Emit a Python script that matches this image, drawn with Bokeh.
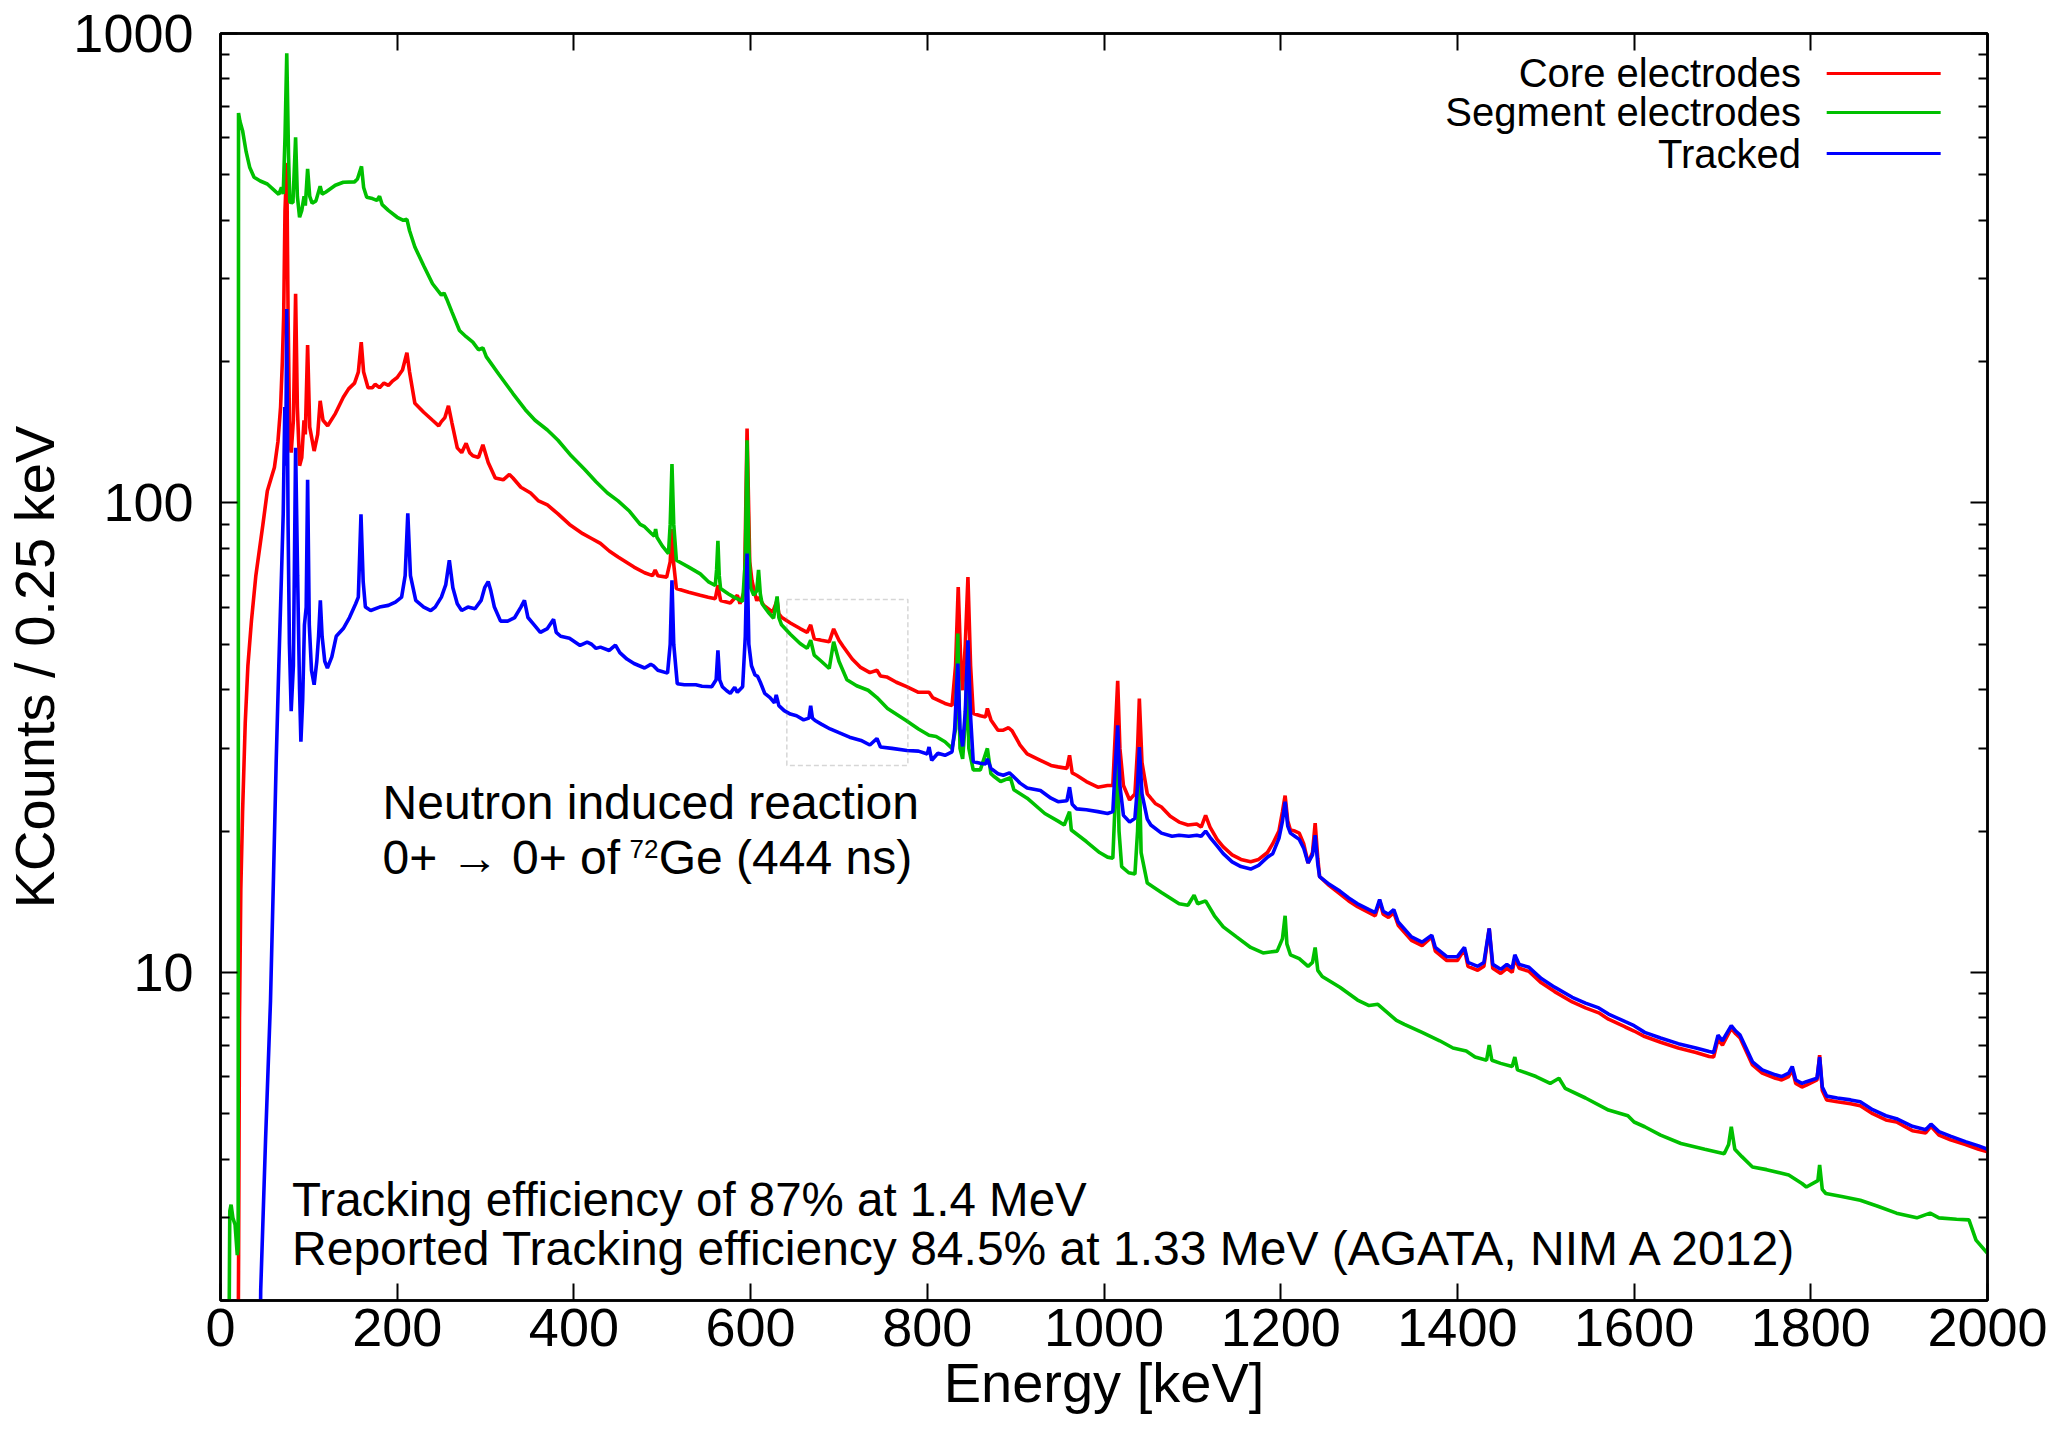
from bokeh.plotting import figure
from bokeh.models import (FixedTicker, LinearAxis, LogAxis, Label, BoxAnnotation,
                          NumeralTickFormatter, Range1d)
from bokeh.embed import file_html
from bokeh.resources import INLINE

FONT = "Liberation Sans"

# ---------------- data: (energy keV, kcounts / 0.25 keV) ----------------
core = [
    (19.5, 1.0), (20.5, 2.5), (21.5, 8.0), (23, 15), (25, 22), (28, 34), (31, 45), (35, 56), (40, 70),
    (48, 90), (53, 106), (58, 114), (61, 119), (65, 135), (68, 160), (70, 200), (71.5, 250), (73, 420),
    (75, 530), (76.5, 250), (78.4, 135), (80, 128), (82.5, 150), (85, 279), (87, 160), (89.5, 120),
    (92, 125), (94.5, 150), (96, 140), (98.6, 217), (101, 145), (106, 129), (110, 140), (112.8, 165),
    (116, 150), (121.3, 146), (130, 155), (139, 168), (145, 175), (151.7, 180), (156, 190), (159.3, 220),
    (162, 190), (167, 176), (172, 176), (175, 179), (180, 176), (185, 180), (190, 178), (195, 182),
    (200, 185), (206, 192), (211, 209), (214, 190), (220, 163), (230, 156), (240, 150), (247, 146),
    (250, 149), (254, 152), (258, 161), (262, 148), (268, 131), (273, 128), (278, 134), (282, 128),
    (285.6, 126), (292, 125), (297, 133), (303, 122), (311, 113), (320, 112), (327, 115), (331, 113),
    (340, 108), (351, 105), (360, 101), (370, 99), (382, 94.8), (395, 90), (410, 86), (420, 84),
    (430, 82), (440, 79), (450, 76.7), (468, 73), (480, 71), (489, 70), (492, 72), (495, 70),
    (505, 69.5), (509, 75), (511, 88), (513, 74), (516, 65.7), (530, 64.5), (543, 63.6), (552, 63),
    (560, 62.5), (563, 66.8), (566, 62), (577, 61.2), (585, 63.6), (588, 61), (593, 65), (596, 144),
    (599, 75), (601.5, 68.4), (605, 64), (607, 61.9), (609, 63), (615, 60.5), (625, 58.5), (630, 62),
    (632, 58), (635, 57.1), (645, 55.5), (656, 54), (664, 53), (668, 55), (672, 51.4), (680, 51),
    (689, 50.6), (694, 53.9), (700, 51), (705, 49.4), (715, 46.5), (724, 44.7), (735, 43.5), (743, 44),
    (747, 42.8), (754, 42.6), (765, 41.5), (776.6, 40.6), (790, 39.5), (802, 39.5), (806, 38.5),
    (820, 37.4), (828, 37), (832, 45), (835, 66.2), (838, 45), (840, 39.9), (843, 50), (846, 69.5),
    (849, 45), (852, 35.6), (860, 35.2), (866, 35), (868, 36.5), (872, 34.5), (880, 32.8), (886, 32.8),
    (892, 33.2), (896, 32.7), (905, 30.5), (913, 29.2), (928, 28.3), (940, 27.6), (948, 27.4),
    (958, 27.2), (961, 29), (964, 26.6), (969, 26.3), (980, 25.5), (993, 24.8), (1004, 25), (1010, 25),
    (1013, 33), (1015.5, 41.8), (1018, 30), (1022, 25), (1029, 23.3), (1035, 24), (1038, 30),
    (1040, 38.3), (1043, 28), (1049, 24), (1053, 23.5), (1058, 22.9), (1065, 22.5), (1075, 21.5),
    (1085, 20.9), (1095, 20.6), (1105, 20.7), (1110, 20.4), (1115, 21.6), (1120, 20.4), (1128, 19.2),
    (1135, 18.5), (1145, 17.8), (1155, 17.4), (1166, 17.2), (1175, 17.4), (1185, 18.0), (1191, 18.8),
    (1198, 20.0), (1202, 22), (1205, 23.8), (1208, 21), (1211, 20.1), (1216, 20.0), (1221, 19.8),
    (1226, 18.8), (1231, 17.1), (1236, 18), (1239, 20.8), (1242, 17.5), (1244, 16.0), (1255, 15.3),
    (1267, 14.7), (1277, 14.2), (1287, 13.8), (1300, 13.4), (1307, 13.2), (1312, 14.2), (1316, 13.3),
    (1322, 13.1), (1328, 13.4), (1333, 12.6), (1348, 11.7), (1360, 11.4), (1371, 11.9), (1375, 11.1),
    (1388, 10.6), (1400, 10.6), (1408, 11.2), (1412, 10.3), (1423, 10.1), (1430, 10.3), (1436, 12.4),
    (1440, 10.2), (1449, 9.95), (1456, 10.2), (1462, 10.0), (1465, 10.7), (1470, 10.2), (1481, 10.05),
    (1495, 9.5), (1510, 9.1), (1530, 8.65), (1545, 8.4), (1560, 8.2), (1571, 7.95), (1590, 7.65),
    (1600, 7.5), (1612, 7.3), (1630, 7.1), (1650, 6.9), (1670, 6.75), (1685, 6.62), (1690, 6.6),
    (1695, 7.2), (1700, 7.0), (1710, 7.6), (1715, 7.4), (1720, 7.25), (1734, 6.35), (1745, 6.1),
    (1760, 5.95), (1767, 5.9), (1775, 6.0), (1779, 6.2), (1783, 5.8), (1790, 5.7), (1795, 5.75),
    (1807, 5.9), (1810, 6.66), (1813, 5.6), (1818, 5.35), (1830, 5.3), (1845, 5.25), (1856, 5.2),
    (1870, 5.0), (1885, 4.85), (1897, 4.8), (1915, 4.6), (1930, 4.55), (1936, 4.7), (1945, 4.5),
    (1958, 4.4), (1975, 4.3), (1990, 4.2), (2000, 4.15),
]

segment = [
    (9, 1.0), (10.5, 3.1), (12, 3.2), (14, 3.0), (16.5, 2.9), (19, 2.5), (20, 2.6), (20.4, 677),
    (22, 650), (25, 621), (29, 560), (33, 519), (38, 494), (45, 485), (53, 478), (60, 465), (66, 454),
    (69, 470), (71, 455), (73, 600), (75, 908), (77, 550), (78.5, 437), (82, 436), (85, 601), (87, 450),
    (89.5, 406), (92, 420), (94.6, 450), (96, 430), (98.6, 515), (101, 450), (103.7, 435), (108, 440),
    (112.8, 473), (115, 455), (118.9, 459), (130, 475), (139, 482), (151.7, 483), (155, 490),
    (159.6, 521), (162, 470), (165.5, 448), (172, 445), (177, 441), (180, 450), (183, 432), (190, 420),
    (200, 406), (207, 400), (211, 402), (214, 380), (220, 351), (230, 320), (240, 293), (250, 277),
    (253, 280), (256, 272), (262, 255), (270.5, 233), (278, 226), (285.6, 220), (292, 212), (297, 214),
    (300.8, 205), (315, 188), (331, 171), (345, 158), (356, 150), (370, 143), (382, 136), (397, 126),
    (412, 118), (425, 111), (438, 105), (450, 101), (463, 96), (475, 90), (480, 89), (488, 86),
    (491, 85), (492.5, 88), (494, 84.5), (500, 81), (507, 78), (509, 90), (511, 121), (513, 90),
    (516, 75.5), (530, 73), (543, 70.6), (552, 68), (560, 66.7), (561.5, 72), (563, 83), (564.5, 70),
    (566, 65.7), (575, 64), (581, 63), (591, 61.7), (594, 75), (596, 136), (598, 80), (600, 66),
    (603.6, 63.6), (607, 65), (609, 72), (611, 64), (613, 61), (620, 58.5), (626, 56.8), (630, 63.2),
    (632, 57), (635, 55), (645, 52.5), (656, 50.2), (664, 49), (668, 51), (672, 47.4), (680, 46),
    (689, 44.4), (694, 50.6), (700, 46), (709, 42), (720, 40.8), (733, 39.9), (743, 38.5), (755, 36.5),
    (776, 34.4), (790, 33), (802, 32), (810, 31.8), (820, 31), (828, 30), (832, 33), (834.5, 52.7),
    (837, 30), (840, 28.5), (843, 34), (845, 45), (847, 30), (852, 27), (860, 27), (868, 30),
    (872, 26.5), (876, 26.1), (883, 25.5), (894, 26), (898, 24.5), (913, 23.5), (933, 21.8), (948, 21),
    (955, 20.6), (961, 22), (963, 20.1), (980, 19), (995, 18), (1004, 17.6), (1010, 17.5), (1013, 24),
    (1015, 30), (1017, 20), (1020, 16.8), (1028, 16.3), (1035, 16.2), (1038, 20), (1040, 27),
    (1042, 18), (1049, 15.5), (1065, 14.8), (1085, 14.0), (1095, 13.9), (1102, 14.6), (1106, 14.0),
    (1115, 14.2), (1125, 13.2), (1135, 12.5), (1150, 11.9), (1166, 11.3), (1180, 11.0), (1196, 11.1),
    (1202, 11.8), (1205, 13.2), (1207, 11.5), (1211, 10.9), (1221, 10.7), (1231, 10.3), (1236, 10.5),
    (1239, 11.3), (1242, 10.1), (1247, 9.8), (1267, 9.3), (1287, 8.73), (1300, 8.5), (1310, 8.55),
    (1331, 7.9), (1340, 7.75), (1360, 7.45), (1380, 7.15), (1395, 6.9), (1410, 6.8), (1420, 6.6),
    (1433, 6.5), (1436, 7.0), (1439, 6.5), (1449, 6.4), (1462, 6.3), (1465, 6.6), (1468, 6.2),
    (1489, 6.0), (1505, 5.8), (1515, 5.95), (1522, 5.66), (1545, 5.4), (1571, 5.09), (1593, 4.95),
    (1600, 4.8), (1612, 4.69), (1630, 4.5), (1653, 4.32), (1680, 4.2), (1702, 4.11), (1707, 4.3),
    (1710, 4.69), (1714, 4.2), (1722, 4.05), (1734, 3.85), (1750, 3.8), (1775, 3.70), (1790, 3.55),
    (1795, 3.49), (1808, 3.6), (1810, 3.89), (1813, 3.45), (1817, 3.38), (1835, 3.33), (1856, 3.27),
    (1875, 3.18), (1897, 3.07), (1920, 3.0), (1935, 3.07), (1945, 3.0), (1965, 2.98), (1979, 2.97),
    (1987, 2.69), (2000, 2.52),
]

tracked = [
    (44, 1.0), (45.5, 2.1), (51, 4.4), (56.6, 8.7), (60, 16), (63, 28), (66, 45), (69, 70), (71, 95),
    (72.8, 160), (73.8, 120), (75, 259), (76.5, 90), (78, 50), (80, 36), (82.5, 45), (85, 131),
    (87.3, 70), (89.5, 40), (91, 31), (93, 38), (95, 55), (97, 60), (98.6, 112), (100.5, 55), (103, 44),
    (106, 41), (109, 46), (111, 52), (113, 62), (115, 52), (118, 46), (121, 44.5), (126, 47), (131, 52),
    (139, 54), (146, 57), (153, 61), (156, 63), (159, 94.6), (161.5, 68), (164, 60), (170, 59),
    (180, 60), (190, 60.5), (198, 61.5), (205, 63), (209, 70), (212, 95), (215, 70), (221, 62),
    (230, 60), (238, 59), (243, 60), (250, 63), (255, 67), (259, 75.5), (263, 66), (268, 61), (273, 59),
    (280, 60), (288, 59.5), (295, 62), (299, 66), (303, 68), (306, 65), (310, 60), (317, 56), (325, 56),
    (333, 57), (340, 60), (344, 62), (348, 57), (355, 55), (362, 53), (370, 54), (377, 56.5), (380, 53),
    (385, 52), (395, 51.5), (407, 49.7), (415, 50.5), (420, 50), (425, 49), (430, 49.3), (440, 48.5),
    (447, 49.8), (452, 48), (460, 46.5), (468, 45.5), (480, 44.5), (487, 45.3), (490, 45), (495, 44),
    (506, 43.4), (509, 50), (511, 68.4), (513, 50), (517, 41.2), (525, 41), (538, 41), (545, 40.7),
    (556, 40.6), (561, 42), (563, 48.5), (565, 42), (568, 40.6), (573, 39.8), (577, 39.3), (582, 40.5),
    (585, 39.5), (591, 40.6), (594, 52), (596, 78), (598, 50), (601, 45), (605, 43), (608, 42.7),
    (611, 41.5), (616, 39.3), (622, 38.5), (627, 37.5), (629, 39), (632, 37), (638, 36.1), (645, 35.5),
    (652, 35.2), (660, 34.5), (666, 34.8), (668, 37), (670, 34.8), (673, 34.4), (680, 33.8), (690, 33),
    (700, 32.4), (712, 31.7), (725, 31.2), (735, 30.5), (743, 31.5), (747, 30.2), (760, 30),
    (777, 29.7), (790, 29.6), (800, 29.2), (802, 30.2), (805, 28.3), (812, 29.3), (820, 29.0),
    (828, 29.5), (831, 33), (834.5, 45.5), (837, 33), (840, 30.3), (843, 36), (846, 51), (849, 35),
    (852, 28.1), (860, 27.9), (866, 27.8), (868, 28.5), (872, 27.2), (880, 26.5), (886, 26.3),
    (893, 26.6), (896, 26.3), (905, 25.3), (913, 24.7), (928, 24.4), (940, 23.5), (948, 23.1),
    (958, 23.2), (961, 24.8), (964, 22.8), (969, 22.3), (980, 22.2), (993, 22.0), (1004, 21.8),
    (1010, 22), (1013, 28), (1015.5, 33.6), (1018, 25), (1022, 21.6), (1029, 20.9), (1035, 21.3),
    (1038, 25), (1040, 30.2), (1043, 24), (1049, 21.2), (1053, 20.6), (1065, 19.8), (1077, 19.5),
    (1085, 19.6), (1096, 19.5), (1105, 19.6), (1110, 19.5), (1115, 20.0), (1120, 19.4), (1128, 18.6),
    (1135, 17.9), (1145, 17.2), (1155, 16.8), (1166, 16.6), (1175, 16.9), (1185, 17.6), (1191, 17.9),
    (1198, 19.3), (1202, 21), (1205, 23.1), (1208, 20.5), (1211, 19.8), (1216, 19.5), (1221, 19.2),
    (1226, 18.4), (1231, 17.1), (1236, 17.8), (1239, 19.6), (1242, 17.0), (1244, 16.0), (1255, 15.4),
    (1267, 14.9), (1277, 14.4), (1287, 14.0), (1300, 13.6), (1307, 13.4), (1312, 14.3), (1316, 13.5),
    (1322, 13.3), (1328, 13.6), (1333, 12.8), (1348, 11.9), (1360, 11.6), (1371, 12.0), (1375, 11.3),
    (1388, 10.8), (1400, 10.8), (1408, 11.3), (1412, 10.5), (1423, 10.3), (1430, 10.5), (1436, 12.4),
    (1440, 10.4), (1449, 10.15), (1456, 10.4), (1462, 10.2), (1465, 10.9), (1470, 10.4), (1481, 10.25),
    (1495, 9.7), (1510, 9.3), (1530, 8.85), (1545, 8.6), (1560, 8.4), (1571, 8.15), (1590, 7.85),
    (1600, 7.7), (1612, 7.45), (1630, 7.25), (1650, 7.05), (1670, 6.9), (1685, 6.78), (1690, 6.75),
    (1695, 7.35), (1700, 7.15), (1710, 7.7), (1715, 7.5), (1720, 7.35), (1734, 6.45), (1745, 6.2),
    (1760, 6.05), (1767, 6.0), (1775, 6.1), (1779, 6.3), (1783, 5.9), (1790, 5.8), (1795, 5.85),
    (1807, 5.95), (1810, 6.6), (1813, 5.7), (1818, 5.45), (1830, 5.4), (1845, 5.35), (1856, 5.3),
    (1870, 5.1), (1885, 4.95), (1897, 4.88), (1915, 4.7), (1930, 4.62), (1936, 4.75), (1945, 4.58),
    (1958, 4.48), (1975, 4.36), (1990, 4.27), (2000, 4.2),
]

series_names = ["Core electrodes", "Segment electrodes", "Tracked"]
series_colors = ["#ff0000", "#00c000", "#0000ff"]
series_data = [core, segment, tracked]

x_ticks = [0, 200, 400, 600, 800, 1000, 1200, 1400, 1600, 1800, 2000]
y_ticks = [10, 100, 1000]
y_minor = [2, 3, 4, 5, 6, 7, 8, 9, 20, 30, 40, 50, 60, 70, 80, 90,
           200, 300, 400, 500, 600, 700, 800, 900]

# ---------------- figure ----------------
p = figure(width=2065, height=1432, x_range=Range1d(0, 2000), y_range=Range1d(2, 1000),
           y_axis_type="log", output_backend="svg", toolbar_location=None,
           min_border_left=220, min_border_right=78, min_border_top=33, min_border_bottom=132)
p.background_fill_color = "white"
p.border_fill_color = "white"
p.grid.visible = False
p.outline_line_color = "black"
p.outline_line_width = 2.5

for data, color in zip(series_data, series_colors):
    xs = [d[0] for d in data]
    ys = [d[1] for d in data]
    p.line(xs, ys, line_color=color, line_width=3.6)

def style_axis(ax, ticker, show_labels):
    ax.ticker = ticker
    ax.axis_line_color = "black"
    ax.axis_line_width = 2.5
    ax.major_tick_line_color = "black"
    ax.major_tick_line_width = 2
    ax.minor_tick_line_color = "black"
    ax.minor_tick_line_width = 2
    ax.major_tick_in = 17
    ax.major_tick_out = 0
    ax.minor_tick_in = 9
    ax.minor_tick_out = 0
    if show_labels:
        ax.major_label_text_font = FONT
        ax.major_label_text_font_size = "54px"
        ax.major_label_text_color = "black"
        ax.axis_label_text_font = FONT
        ax.axis_label_text_font_size = "56px"
        ax.axis_label_text_font_style = "normal"
        ax.axis_label_text_color = "black"
    else:
        # mirror axis: ticks only, labels measured but not painted
        ax.major_label_text_font_size = "11px"
        ax.major_label_text_color = None
        ax.major_label_standoff = 2

xt = FixedTicker(ticks=x_ticks, minor_ticks=[])
yt = FixedTicker(ticks=y_ticks, minor_ticks=y_minor)

xa = p.xaxis[0]
style_axis(xa, xt, True)
xa.axis_label = "Energy [keV]"
xa.major_label_standoff = 8
xa.axis_label_standoff = 2

ya = p.yaxis[0]
style_axis(ya, yt, True)
ya.formatter = NumeralTickFormatter(format="0")
ya.axis_label = "KCounts / 0.25 keV"
ya.major_label_standoff = 27
ya.axis_label_standoff = 4

top = LinearAxis()
style_axis(top, FixedTicker(ticks=x_ticks, minor_ticks=[]), False)
p.add_layout(top, "above")
right = LogAxis()
style_axis(right, FixedTicker(ticks=y_ticks, minor_ticks=y_minor), False)
p.add_layout(right, "right")

# ---------------- legend (text right-aligned, sample line to the right) ----------------
leg_text_x = 1789
leg_line_x0, leg_line_x1 = 1818, 1947
leg_rows = [822, 679, 555]
for name, color, yv in zip(series_names, series_colors, leg_rows):
    p.add_layout(Label(x=leg_text_x, y=yv, text=name, text_align="right", text_baseline="middle",
                       text_font=FONT, text_font_size="40px", text_color="black"))
    p.segment(x0=[leg_line_x0], y0=[yv], x1=[leg_line_x1], y1=[yv], line_color=color, line_width=3)

# ---------------- annotations ----------------
p.add_layout(BoxAnnotation(left=641, right=778, bottom=27.6, top=62.3, fill_alpha=0,
                           line_color="#777777", line_dash="5 3", line_width=1.5))

ann_font = "48px"
p.add_layout(Label(x=183.5, y=23.0, text="Neutron induced reaction", text_font=FONT,
                   text_font_size=ann_font, text_baseline="alphabetic", text_color="black"))
p.add_layout(Label(x=183.5, y=17.6, text="0+ \u2192 0+ of", text_font=FONT,
                   text_font_size=ann_font, text_baseline="alphabetic", text_color="black"))
p.add_layout(Label(x=463, y=18.3, text="72", text_font=FONT,
                   text_font_size="26px", text_baseline="alphabetic", text_color="black"))
p.add_layout(Label(x=496, y=17.6, text="Ge (444 ns)", text_font=FONT,
                   text_font_size=ann_font, text_baseline="alphabetic", text_color="black"))

p.add_layout(Label(x=81, y=3.28, text="Tracking efficiency of 87% at 1.4 MeV", text_font=FONT,
                   text_font_size="47.5px", text_baseline="alphabetic", text_color="black"))
p.add_layout(Label(x=81, y=2.58,
                   text="Reported Tracking efficiency 84.5% at 1.33 MeV (AGATA, NIM A 2012)",
                   text_font=FONT, text_font_size="48px", text_baseline="alphabetic",
                   text_color="black"))

open("out.html", "w").write(file_html(p, INLINE))
